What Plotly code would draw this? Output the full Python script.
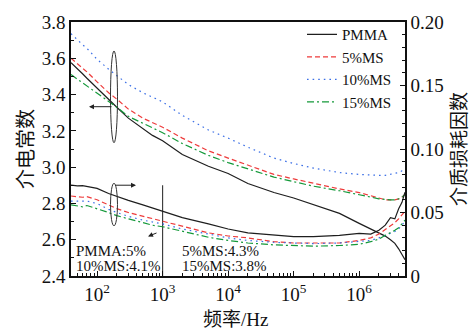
import math
import plotly.graph_objects as go

# ---------------- data ----------------
freq = [40, 50, 60, 70, 100, 150, 200, 300, 500, 700, 1e3, 2e3, 5e3, 1e4, 2e4, 5e4,
        1e5, 2e5, 5e5, 1e6, 1.5e6, 2e6, 2.5e6, 3e6, 3.5e6, 4e6, 4.5e6, 5e6]

series_names = ["PMMA", "5%MS", "10%MS", "15%MS"]

# dielectric constant (left axis)
eps_pmma = [3.576, 3.545, 3.515, 3.49, 3.434, 3.37, 3.33, 3.27, 3.21, 3.175, 3.145, 3.07, 3.005,
            2.965, 2.91, 2.86, 2.83, 2.795, 2.745, 2.69, 2.66, 2.64, 2.62, 2.60, 2.58, 2.55, 2.52, 2.49]
eps_5 = [3.60, 3.57, 3.545, 3.525, 3.47, 3.41, 3.375, 3.32, 3.27, 3.245, 3.22, 3.16, 3.09,
         3.05, 3.01, 2.96, 2.935, 2.91, 2.88, 2.86, 2.84, 2.83, 2.82, 2.82, 2.82, 2.825, 2.835, 2.85]
eps_10 = [3.736, 3.70, 3.675, 3.655, 3.594, 3.54, 3.505, 3.455, 3.41, 3.385, 3.36, 3.285, 3.205,
          3.16, 3.11, 3.05, 3.02, 2.995, 2.97, 2.96, 2.955, 2.955, 2.955, 2.96, 2.965, 2.97, 2.98, 2.985]
eps_15 = [3.51, 3.485, 3.465, 3.45, 3.41, 3.36, 3.33, 3.28, 3.24, 3.215, 3.19, 3.13, 3.065,
          3.025, 2.99, 2.945, 2.92, 2.895, 2.87, 2.85, 2.835, 2.825, 2.82, 2.82, 2.82, 2.825, 2.835, 2.85]

# dielectric loss factor (right axis)
loss_pmma = [0.0715, 0.071, 0.0712, 0.0705, 0.069, 0.065, 0.0625, 0.0595, 0.056, 0.0535, 0.051, 0.046, 0.041,
             0.037, 0.034, 0.032, 0.031, 0.031, 0.032, 0.0335, 0.033, 0.036, 0.040, 0.046, 0.045, 0.053, 0.058, 0.066]
loss_5 = [0.063, 0.0625, 0.062, 0.0625, 0.060, 0.056, 0.053, 0.050, 0.047, 0.045, 0.0435, 0.039, 0.034,
          0.0315, 0.030, 0.027, 0.026, 0.026, 0.026, 0.028, 0.030, 0.033, 0.0365, 0.039, 0.042, 0.045, 0.048, 0.051]
loss_10 = [0.059, 0.059, 0.0595, 0.059, 0.057, 0.0525, 0.050, 0.047, 0.044, 0.0425, 0.041, 0.037, 0.033,
           0.030, 0.028, 0.0265, 0.026, 0.0255, 0.026, 0.027, 0.028, 0.030, 0.032, 0.033, 0.035, 0.037, 0.040, 0.043]
loss_15 = [0.056, 0.0555, 0.0545, 0.0555, 0.053, 0.050, 0.0475, 0.045, 0.042, 0.040, 0.0388, 0.035, 0.0305,
           0.028, 0.026, 0.0245, 0.0237, 0.0235, 0.024, 0.025, 0.027, 0.029, 0.032, 0.034, 0.036, 0.038, 0.041, 0.044]

x_tickvals = [1e2, 1e3, 1e4, 1e5, 1e6]
x_ticktext = ["10<sup>2</sup>", "10<sup>3</sup>", "10<sup>4</sup>", "10<sup>5</sup>", "10<sup>6</sup>"]
y2_tickvals = [0, 0.05, 0.10, 0.15, 0.20]
y2_ticktext = ["0", "0.05", "0.10", "0.15", "0.20"]

marker_freq = [1e3, 1e3]
marker_eps = [2.90, 2.4]

note_lines_left = ["PMMA:5%", "10%MS:4.1%"]
note_lines_right = ["5%MS:4.3%", "15%MS:3.8%"]

# ---------------- styling ----------------
colors = ["#1e1e1e", "#ee3b3b", "#3b6fe6", "#14993a"]
dashes = ["solid", "5px,3px", "1.6px,4px", "7px,3px,2px,3px"]
SERIF = "Liberation Serif, Times New Roman, serif"
CJK = "Noto Sans CJK SC"

eps_all = [eps_pmma, eps_5, eps_10, eps_15]
loss_all = [loss_pmma, loss_5, loss_10, loss_15]

fig = go.Figure()
for i, name in enumerate(series_names):
    fig.add_trace(go.Scatter(x=freq, y=eps_all[i], name=name, mode="lines",
                             legendgroup=name, yaxis="y",
                             line=dict(color=colors[i], dash=dashes[i], width=1.2)))
    fig.add_trace(go.Scatter(x=freq, y=loss_all[i], name=name, mode="lines",
                             legendgroup=name, showlegend=False, yaxis="y2",
                             line=dict(color=colors[i], dash=dashes[i], width=1.2)))

fig.add_trace(go.Scatter(x=marker_freq, y=marker_eps, mode="lines", showlegend=False,
                         yaxis="y", line=dict(color="#333", width=1.1)))

# plot-area pixel geometry helpers (paper coords)
L, R, T, B = 71, 405, 13, 276
def px(x):
    return (x - L) / (R - L)
def py(y):
    return (B - y) / (B - T)

shapes = [
    dict(type="circle", xref="paper", yref="paper", x0=px(110.5), x1=px(117.5),
         y0=py(138), y1=py(43), line=dict(color="#333", width=1)),
    dict(type="circle", xref="paper", yref="paper", x0=px(110.5), x1=px(117.5),
         y0=py(224), y1=py(180), line=dict(color="#333", width=1)),
]

annotations = [
    dict(xref="paper", yref="paper", x=px(89), y=py(100.7), ax=24, ay=0, showarrow=True,
         arrowhead=2, arrowsize=1, arrowwidth=1, arrowcolor="#222", text=""),
    dict(xref="paper", yref="paper", x=px(136), y=py(182), ax=-22, ay=0, showarrow=True,
         arrowhead=2, arrowsize=1, arrowwidth=1, arrowcolor="#222", text=""),
    dict(xref="paper", yref="paper", x=px(148), y=py(235), ax=10, ay=-4, showarrow=True,
         arrowhead=2, arrowsize=1, arrowwidth=1, arrowcolor="#222", text=""),
    dict(xref="paper", yref="paper", x=px(235), y=py(319),
         xanchor="center", yanchor="middle", showarrow=False,
         text="<span style='font-family:Noto Sans CJK SC'>频率</span>/Hz",
         font=dict(family=SERIF, size=19, color="#111")),
]
for j, (tl, tr) in enumerate(zip(note_lines_left, note_lines_right)):
    yy = py(250 + 16 * j)
    annotations.append(dict(xref="paper", yref="paper", x=px(74), y=yy, xanchor="left",
                            yanchor="middle", text=tl, showarrow=False,
                            font=dict(family=SERIF, size=15, color="#111")))
    annotations.append(dict(xref="paper", yref="paper", x=px(180), y=yy, xanchor="left",
                            yanchor="middle", text=tr, showarrow=False,
                            font=dict(family=SERIF, size=15, color="#111")))

axis_common = dict(showline=True, linecolor="#111", linewidth=1.5, showgrid=False,
                   zeroline=False, ticks="inside", tickcolor="#111", ticklen=5,
                   tickwidth=1.2, tickfont=dict(family=SERIF, size=19, color="#111"))

fig.update_layout(
    width=476, height=335,
    margin=dict(l=L, r=476 - R, t=T, b=335 - B),
    paper_bgcolor="white", plot_bgcolor="white",
    showlegend=True,
    legend=dict(x=px(302), y=py(9), xanchor="left", yanchor="top",
                bgcolor="rgba(0,0,0,0)", tracegroupgap=0,
                font=dict(family=SERIF, size=15, color="#111")),
    xaxis=dict(type="log", range=[math.log10(40), math.log10(5e6)],
               tickmode="array", tickvals=x_tickvals, ticktext=x_ticktext, mirror=True,
               minor=dict(dtick="D1", ticks="inside", ticklen=3, tickcolor="#111"),
               **axis_common),
    yaxis=dict(range=[2.4, 3.8], dtick=0.2, tick0=2.4, tickformat=".1f",
               title=dict(text="介电常数", standoff=3,
                          font=dict(family=CJK, size=20, color="#111")),
               minor=dict(dtick=0.1, ticks="inside", ticklen=3, tickcolor="#111"),
               **axis_common),
    yaxis2=dict(range=[0, 0.2], overlaying="y", side="right", tickmode="array",
                tickvals=y2_tickvals, ticktext=y2_ticktext,
                title=dict(text="介质损耗因数", standoff=7,
                           font=dict(family=CJK, size=19, color="#111")),
                minor=dict(dtick=0.01, tick0=0, ticks="inside", ticklen=3, tickcolor="#111"),
                **axis_common),
    shapes=shapes, annotations=annotations,
)

fig.write_html("out.html")
